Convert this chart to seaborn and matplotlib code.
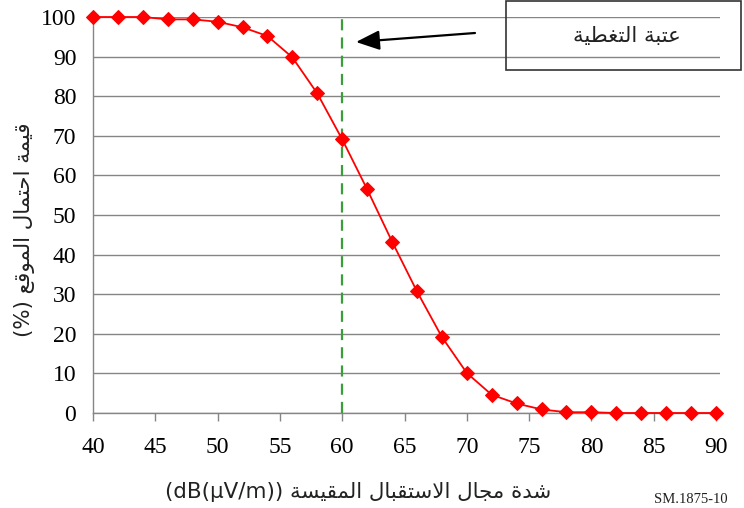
import numpy as np
import pandas as pd
import matplotlib
matplotlib.use("Agg")
import matplotlib.pyplot as plt
import seaborn as sns
from matplotlib.patches import Rectangle

# ---- data ----
field_strength = [40, 42, 44, 46, 48, 50, 52, 54, 56, 58, 60, 62, 64,
                  66, 68, 70, 72, 74, 76, 78, 80, 82, 84, 86, 88, 90]
probability = [100, 100, 100, 99.4, 99.4, 98.8, 97.4, 95.2, 89.8, 80.7, 69.1,
               56.5, 43.3, 30.7, 19.2, 10.1, 4.6, 2.4, 0.9, 0.2, 0.2,
               0, 0, 0, 0, 0]
x_ticks = [40, 45, 50, 55, 60, 65, 70, 75, 80, 85, 90]
y_ticks = [0, 10, 20, 30, 40, 50, 60, 70, 80, 90, 100]
threshold = 60

box_text = "عتبة التغطية"
y_label_ar = "قيمة احتمال الموقع"
x_label_ar = "شدة مجال الاستقبال المقيسة"
x_unit = "(dB(μV/m))"
fig_id = "SM.1875-10"

# ---- minimal Arabic shaping (presentation forms) + RTL ordering ----
FORMS = {
    '\u0627': (0xFE8D, 0xFE8E, None, None),
    '\u0622': (0xFE81, 0xFE82, None, None),
    '\u0623': (0xFE83, 0xFE84, None, None),
    '\u0625': (0xFE87, 0xFE88, None, None),
    '\u0628': (0xFE8F, 0xFE90, 0xFE91, 0xFE92),
    '\u0629': (0xFE93, 0xFE94, None, None),
    '\u062A': (0xFE95, 0xFE96, 0xFE97, 0xFE98),
    '\u062B': (0xFE99, 0xFE9A, 0xFE9B, 0xFE9C),
    '\u062C': (0xFE9D, 0xFE9E, 0xFE9F, 0xFEA0),
    '\u062D': (0xFEA1, 0xFEA2, 0xFEA3, 0xFEA4),
    '\u062E': (0xFEA5, 0xFEA6, 0xFEA7, 0xFEA8),
    '\u062F': (0xFEA9, 0xFEAA, None, None),
    '\u0630': (0xFEAB, 0xFEAC, None, None),
    '\u0631': (0xFEAD, 0xFEAE, None, None),
    '\u0632': (0xFEAF, 0xFEB0, None, None),
    '\u0633': (0xFEB1, 0xFEB2, 0xFEB3, 0xFEB4),
    '\u0634': (0xFEB5, 0xFEB6, 0xFEB7, 0xFEB8),
    '\u0635': (0xFEB9, 0xFEBA, 0xFEBB, 0xFEBC),
    '\u0636': (0xFEBD, 0xFEBE, 0xFEBF, 0xFEC0),
    '\u0637': (0xFEC1, 0xFEC2, 0xFEC3, 0xFEC4),
    '\u0638': (0xFEC5, 0xFEC6, 0xFEC7, 0xFEC8),
    '\u0639': (0xFEC9, 0xFECA, 0xFECB, 0xFECC),
    '\u063A': (0xFECD, 0xFECE, 0xFECF, 0xFED0),
    '\u0641': (0xFED1, 0xFED2, 0xFED3, 0xFED4),
    '\u0642': (0xFED5, 0xFED6, 0xFED7, 0xFED8),
    '\u0643': (0xFED9, 0xFEDA, 0xFEDB, 0xFEDC),
    '\u0644': (0xFEDD, 0xFEDE, 0xFEDF, 0xFEE0),
    '\u0645': (0xFEE1, 0xFEE2, 0xFEE3, 0xFEE4),
    '\u0646': (0xFEE5, 0xFEE6, 0xFEE7, 0xFEE8),
    '\u0647': (0xFEE9, 0xFEEA, 0xFEEB, 0xFEEC),
    '\u0648': (0xFEED, 0xFEEE, None, None),
    '\u0649': (0xFEEF, 0xFEF0, None, None),
    '\u064A': (0xFEF1, 0xFEF2, 0xFEF3, 0xFEF4),
}
LAMALEF = {'\u0627': (0xFEFB, 0xFEFC), '\u0623': (0xFEF7, 0xFEF8),
           '\u0625': (0xFEF9, 0xFEFA), '\u0622': (0xFEF5, 0xFEF6)}


def _joins_next(c):
    return c in FORMS and FORMS[c][2] is not None


def shape_ar(text):
    chars = list(text)
    n = len(chars)
    out = []
    i = 0
    while i < n:
        c = chars[i]
        if c not in FORMS:
            out.append(c)
            i += 1
            continue
        prev = chars[i - 1] if i > 0 else None
        prev_joins = prev is not None and _joins_next(prev)
        if c == '\u0644' and i + 1 < n and chars[i + 1] in LAMALEF:
            lig = LAMALEF[chars[i + 1]]
            out.append(chr(lig[1] if prev_joins else lig[0]))
            i += 2
            continue
        nxt = chars[i + 1] if i + 1 < n else None
        next_joins = _joins_next(c) and nxt is not None and nxt in FORMS
        f = FORMS[c]
        if prev_joins and next_joins:
            code = f[3]
        elif prev_joins:
            code = f[1]
        elif next_joins:
            code = f[2]
        else:
            code = f[0]
        out.append(chr(code))
        i += 1
    return ''.join(reversed(out))


# ---- plot ----
sns.set_theme(style="white")
plt.rcParams['font.family'] = ['DejaVu Sans']

W, H = 744, 508
fig = plt.figure(figsize=(W / 100, H / 100), dpi=100)
fig.patch.set_facecolor('white')

ax_l, ax_r, ax_t, ax_b = 93, 720, 17, 413
ax = fig.add_axes([ax_l / W, 1 - ax_b / H, (ax_r - ax_l) / W, (ax_b - ax_t) / H])

df = pd.DataFrame({"x": field_strength, "y": probability})

ax.axvline(threshold, color='#3a9e3a', lw=1.6, ls=(0, (5, 3.2)), zorder=2)

sns.lineplot(data=df, x="x", y="y", ax=ax, color='#ff0000', lw=1.3,
             marker='D', markersize=7.5, markeredgecolor='#ff0000',
             markerfacecolor='#ff0000', zorder=3, clip_on=False)

ax.set_xlim(40, 40 + (ax_r - ax_l) / ((716 - 93) / 50))
ax.set_ylim(0, 100)
ax.set_xticks(x_ticks)
ax.set_yticks(y_ticks)
ax.set_xticklabels([str(t) for t in x_ticks], family='Liberation Serif', fontsize=17)
ax.set_yticklabels([str(t) for t in y_ticks], family='Liberation Serif', fontsize=17)

ax.yaxis.grid(True, color='#858585', lw=1.0)
ax.xaxis.grid(False)
ax.set_axisbelow(True)
for s in ['top', 'right']:
    ax.spines[s].set_visible(False)
for s in ['left', 'bottom']:
    ax.spines[s].set_color('#858585')
    ax.spines[s].set_linewidth(1.0)

ax.tick_params(axis='x', direction='out', length=6, width=1, color='#858585',
               pad=11, labelcolor='black', bottom=True)
ax.tick_params(axis='y', length=0, pad=12, labelcolor='black', left=False)

ax.set_xlabel("")
ax.set_ylabel("")

# axis titles (RTL visual order)
fig.text(358 / W, 1 - 492 / H, x_unit + " " + shape_ar(x_label_ar),
         ha='center', va='center', fontsize=15.4, color='#222222',
         family=['DejaVu Sans'])
fig.text(25 / W, 1 - 230 / H, "(%) " + shape_ar(y_label_ar),
         ha='center', va='center', rotation=90, fontsize=15.4, color='#222222',
         family=['DejaVu Sans'])

# annotation box
fig.patches.append(Rectangle((506 / W, 1 - 70 / H), (741 - 506) / W, 69 / H,
                             transform=fig.transFigure, fill=False,
                             edgecolor='#333333', lw=1.2))
fig.text(627 / W, 1 - 36 / H, shape_ar(box_text), ha='center', va='center',
         fontsize=15.4, color='#222222', family=['DejaVu Sans'])

# arrow pointing to the threshold line
ax.annotate("", xy=(356, H - 42), xycoords='figure pixels',
            xytext=(475, H - 33), textcoords='figure pixels',
            arrowprops=dict(arrowstyle='-|>,head_length=1.2,head_width=0.5',
                            color='black', lw=1.6, shrinkA=0, shrinkB=0))

fig.text(654 / W, 1 - 506 / H, fig_id, ha='left', va='bottom',
         fontsize=10.5, family='Liberation Serif', color='#222222')

fig.savefig("out.png", dpi=100, facecolor='white')
